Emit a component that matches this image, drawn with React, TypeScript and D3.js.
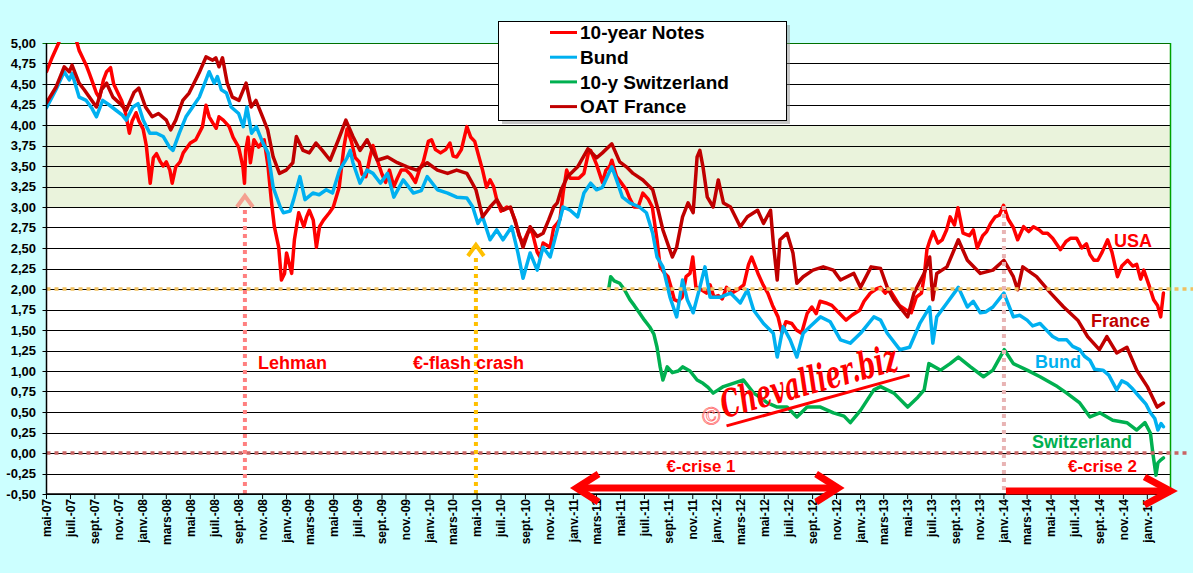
import React from "react";
import * as d3 from "d3";

type Pt = [string, number];

// ---------- DATA ----------
const usNotes: Pt[] = [
  ["2007-05-01",4.65],["2007-05-16",4.83],["2007-06-01",5.00],["2007-06-12",5.18],["2007-06-25",5.10],["2007-07-05",5.08],["2007-07-15",5.05],["2007-07-23",4.91],["2007-08-01",4.82],["2007-08-10",4.73],["2007-08-18",4.63],["2007-08-27",4.51],["2007-09-05",4.39],["2007-09-13",4.33],["2007-09-23",4.55],["2007-10-01",4.65],["2007-10-11",4.70],["2007-10-19",4.50],["2007-10-29",4.40],["2007-11-08",4.30],["2007-11-18",4.15],["2007-11-28",3.90],["2007-12-05",4.05],["2007-12-15",4.15],["2007-12-22",4.05],
  ["2008-01-02",3.95],["2008-01-10",3.75],["2008-01-20",3.29],["2008-01-28",3.60],["2008-02-05",3.65],["2008-02-15",3.55],["2008-02-22",3.50],["2008-03-01",3.55],["2008-03-10",3.45],["2008-03-16",3.29],["2008-03-25",3.49],["2008-04-05",3.55],["2008-04-13",3.66],["2008-05-01",3.78],["2008-05-15",3.82],["2008-06-01",3.98],["2008-06-10",4.24],["2008-06-18",4.10],["2008-06-28",4.02],["2008-07-06",3.96],["2008-07-13",4.10],["2008-07-24",4.06],["2008-08-08",3.98],["2008-08-18",3.85],["2008-09-01",3.73],["2008-09-12",3.49],["2008-09-16",3.29],["2008-09-19",3.69],["2008-09-25",3.85],["2008-10-01",3.54],["2008-10-10",3.82],["2008-10-22",3.73],["2008-11-05",3.82],["2008-11-15",3.49],["2008-11-23",3.09],["2008-12-01",2.76],["2008-12-12",2.51],["2008-12-19",2.11],["2008-12-27",2.19],
  ["2009-01-01",2.44],["2009-01-14",2.19],["2009-01-21",2.60],["2009-02-01",2.93],["2009-02-14",2.76],["2009-02-21",2.88],["2009-02-28",2.96],["2009-03-10",2.84],["2009-03-18",2.51],["2009-03-26",2.76],["2009-04-05",2.84],["2009-04-20",2.93],["2009-04-30",3.00],["2009-05-15",3.24],["2009-05-27",3.73],["2009-06-04",3.95],["2009-06-15",3.80],["2009-06-25",3.60],["2009-07-05",3.55],["2009-07-12",3.40],["2009-07-22",3.37],["2009-08-01",3.60],["2009-08-09",3.75],["2009-08-20",3.57],["2009-09-01",3.40],["2009-09-10",3.30],["2009-09-20",3.45],["2009-10-01",3.25],["2009-10-10",3.35],["2009-10-20",3.45],["2009-11-01",3.45],["2009-11-12",3.40],["2009-11-25",3.30],["2009-12-05",3.45],["2009-12-15",3.55],["2009-12-28",3.80],
  ["2010-01-05",3.82],["2010-01-15",3.70],["2010-01-28",3.66],["2010-02-10",3.70],["2010-02-21",3.78],["2010-03-01",3.62],["2010-03-10",3.61],["2010-03-22",3.70],["2010-04-05",3.98],["2010-04-15",3.85],["2010-04-25",3.80],["2010-05-08",3.57],["2010-05-15",3.45],["2010-05-25",3.24],["2010-06-03",3.33],["2010-06-12",3.25],["2010-06-20",3.09],["2010-07-01",2.95],["2010-07-16",3.00],["2010-07-25",2.98],["2010-08-06",2.84],["2010-08-16",2.65],["2010-08-26",2.56],["2010-09-08",2.70],["2010-09-18",2.70],["2010-10-01",2.45],["2010-10-08",2.39],["2010-10-16",2.56],["2010-11-03",2.51],["2010-11-12",2.75],["2010-11-21",2.80],["2010-11-28",2.85],["2010-12-06",3.17],["2010-12-15",3.45],["2010-12-24",3.35],
  ["2011-01-05",3.35],["2011-01-15",3.35],["2011-01-28",3.41],["2011-02-08",3.65],["2011-02-14",3.69],["2011-03-01",3.52],["2011-03-16",3.30],["2011-03-25",3.45],["2011-04-04",3.50],["2011-04-09",3.57],["2011-04-21",3.37],["2011-05-02",3.30],["2011-05-16",3.21],["2011-05-25",3.10],["2011-06-05",3.00],["2011-06-15",3.00],["2011-06-27",3.17],["2011-07-10",3.10],["2011-07-21",3.00],["2011-08-02",2.60],["2011-08-10",2.27],["2011-08-20",2.20],["2011-08-30",2.15],["2011-09-08",2.00],["2011-09-15",1.87],["2011-09-25",1.85],["2011-10-05",1.90],["2011-10-15",2.15],["2011-10-25",2.19],["2011-11-01",2.39],["2011-11-09",2.02],["2011-11-20",2.00],["2011-12-06",1.95],["2011-12-15",2.05],["2011-12-25",1.90],
  ["2012-01-05",1.92],["2012-01-15",1.88],["2012-01-26",2.02],["2012-02-08",1.95],["2012-02-23",1.99],["2012-03-10",2.05],["2012-03-22",2.30],["2012-03-30",2.39],["2012-04-15",2.19],["2012-04-28",2.05],["2012-05-10",1.95],["2012-05-22",1.80],["2012-06-05",1.66],["2012-06-15",1.46],["2012-06-25",1.60],["2012-07-10",1.58],["2012-07-22",1.50],["2012-08-04",1.46],["2012-08-18",1.70],["2012-08-30",1.78],["2012-09-10",1.70],["2012-09-20",1.85],["2012-10-05",1.83],["2012-10-20",1.80],["2012-11-05",1.72],["2012-11-25",1.62],["2012-12-10",1.68],["2012-12-30",1.74],
  ["2013-01-10",1.85],["2013-01-26",1.95],["2013-02-10",2.00],["2013-02-21",2.02],["2013-03-05",1.95],["2013-03-15",2.00],["2013-03-28",1.90],["2013-04-10",1.80],["2013-04-25",1.75],["2013-05-10",1.71],["2013-05-23",1.90],["2013-06-05",1.95],["2013-06-12",2.15],["2013-06-19",2.48],["2013-06-27",2.60],["2013-07-05",2.70],["2013-07-17",2.56],["2013-07-28",2.60],["2013-08-08",2.72],["2013-08-17",2.88],["2013-08-28",2.78],["2013-09-06",2.99],["2013-09-19",2.68],["2013-10-05",2.65],["2013-10-15",2.72],["2013-10-25",2.50],["2013-11-08",2.65],["2013-11-18",2.70],["2013-11-28",2.80],["2013-12-10",2.88],["2013-12-20",2.90],["2013-12-31",3.02],
  ["2014-01-12",2.85],["2014-01-25",2.75],["2014-02-05",2.60],["2014-02-20",2.76],["2014-03-05",2.70],["2014-03-17",2.76],["2014-04-01",2.72],["2014-04-10",2.68],["2014-04-22",2.68],["2014-05-05",2.62],["2014-05-15",2.55],["2014-05-25",2.48],["2014-06-08",2.58],["2014-06-20",2.62],["2014-07-05",2.62],["2014-07-18",2.50],["2014-07-30",2.55],["2014-08-08",2.42],["2014-08-18",2.35],["2014-08-28",2.35],["2014-09-08",2.45],["2014-09-22",2.60],["2014-10-03",2.45],["2014-10-17",2.15],["2014-10-28",2.28],["2014-11-12",2.35],["2014-11-25",2.28],["2014-12-05",2.30],["2014-12-15",2.12],["2014-12-23",2.23],
  ["2015-01-05",2.05],["2015-01-17",1.87],["2015-01-27",1.80],["2015-02-04",1.66],["2015-02-11",1.95]
];

const bund: Pt[] = [
  ["2007-05-01",4.21],["2007-05-25",4.43],["2007-06-15",4.65],["2007-06-28",4.55],["2007-07-05",4.63],["2007-07-23",4.34],["2007-08-10",4.30],["2007-08-25",4.20],["2007-09-05",4.10],["2007-09-21",4.30],["2007-10-06",4.25],["2007-10-25",4.18],["2007-11-10",4.12],["2007-11-20",4.06],["2007-12-07",4.22],["2007-12-20",4.26],
  ["2008-01-02",4.06],["2008-01-19",3.90],["2008-02-05",3.90],["2008-02-22",3.86],["2008-03-09",3.73],["2008-03-18",3.69],["2008-04-03",3.90],["2008-04-20",4.10],["2008-05-07",4.22],["2008-05-24",4.34],["2008-06-10",4.55],["2008-06-18",4.65],["2008-07-01",4.51],["2008-07-09",4.59],["2008-07-19",4.43],["2008-08-01",4.39],["2008-08-13",4.22],["2008-09-01",4.14],["2008-09-13",3.98],["2008-09-22",4.22],["2008-10-04",3.90],["2008-10-16",3.98],["2008-11-02",3.78],["2008-11-15",3.66],["2008-11-28",3.24],["2008-12-16",3.00],["2008-12-24",2.93],
  ["2009-01-10",2.95],["2009-01-19",3.09],["2009-02-04",3.37],["2009-02-17",3.09],["2009-03-09",3.17],["2009-03-25",3.15],["2009-04-12",3.21],["2009-04-28",3.17],["2009-05-16",3.45],["2009-06-04",3.60],["2009-06-12",3.69],["2009-06-19",3.54],["2009-07-07",3.29],["2009-07-25",3.45],["2009-08-09",3.41],["2009-08-28",3.29],["2009-09-15",3.41],["2009-10-01",3.12],["2009-10-25",3.33],["2009-11-20",3.17],["2009-12-10",3.20],["2009-12-25",3.37],
  ["2010-01-20",3.21],["2010-02-15",3.17],["2010-03-10",3.12],["2010-04-05",3.11],["2010-04-20",3.00],["2010-05-03",2.80],["2010-05-15",2.88],["2010-06-03",2.60],["2010-06-20",2.72],["2010-07-06",2.60],["2010-07-28",2.76],["2010-08-13",2.44],["2010-08-26",2.13],["2010-09-13",2.44],["2010-10-01",2.23],["2010-10-16",2.51],["2010-11-03",2.39],["2010-11-21",2.72],["2010-12-06",3.00],["2010-12-24",2.96],
  ["2011-01-12",2.88],["2011-01-28",3.17],["2011-02-14",3.29],["2011-03-01",3.21],["2011-03-16",3.24],["2011-04-09",3.49],["2011-04-21",3.33],["2011-05-06",3.12],["2011-05-25",3.05],["2011-06-18",3.00],["2011-07-06",2.93],["2011-07-22",2.68],["2011-08-02",2.39],["2011-08-17",2.27],["2011-09-04",1.90],["2011-09-21",1.66],["2011-10-06",2.11],["2011-10-18",1.87],["2011-11-02",1.71],["2011-11-19",2.02],["2011-12-02",2.27],["2011-12-15",1.90],
  ["2012-01-10",1.90],["2012-02-05",1.95],["2012-03-01",1.83],["2012-03-19",1.99],["2012-04-04",1.74],["2012-04-29",1.58],["2012-05-24",1.46],["2012-06-03",1.17],["2012-06-18",1.54],["2012-07-06",1.38],["2012-07-23",1.17],["2012-08-08",1.46],["2012-08-25",1.54],["2012-09-21",1.66],["2012-10-16",1.60],["2012-11-11",1.38],["2012-12-06",1.34],
  ["2013-01-01",1.46],["2013-02-04",1.66],["2013-02-21",1.62],["2013-03-10",1.46],["2013-04-11",1.26],["2013-05-06",1.29],["2013-06-01",1.58],["2013-06-26",1.78],["2013-07-04",1.34],["2013-07-14",1.66],["2013-08-09",1.83],["2013-09-07",2.02],["2013-09-30",1.78],["2013-10-15",1.85],["2013-11-02",1.71],["2013-11-15",1.72],["2013-12-04",1.78],
  ["2014-01-01",1.95],["2014-01-25",1.66],["2014-02-10",1.68],["2014-03-01",1.62],["2014-03-15",1.55],["2014-04-03",1.58],["2014-04-15",1.52],["2014-05-05",1.42],["2014-05-20",1.38],["2014-06-10",1.38],["2014-06-25",1.30],["2014-07-13",1.26],["2014-07-25",1.18],["2014-08-08",1.13],["2014-08-20",1.02],["2014-09-10",1.01],["2014-09-25",0.95],["2014-10-15",0.77],["2014-10-28",0.88],["2014-11-10",0.85],["2014-11-25",0.78],["2014-12-13",0.68],["2014-12-28",0.60],
  ["2015-01-09",0.49],["2015-01-20",0.42],["2015-01-28",0.28],["2015-02-05",0.36],["2015-02-11",0.32]
];

const swiss: Pt[] = [
  ["2011-04-01",2.00],["2011-04-06",2.15],["2011-04-15",2.10],["2011-04-29",2.07],["2011-05-10",2.00],["2011-05-25",1.87],["2011-06-05",1.80],["2011-06-18",1.71],["2011-07-01",1.62],["2011-07-14",1.54],["2011-07-25",1.45],["2011-08-02",1.29],["2011-08-10",1.05],["2011-08-17",0.89],["2011-08-28",1.05],["2011-09-10",0.98],["2011-09-25",1.00],["2011-10-06",1.05],["2011-10-25",1.00],["2011-11-12",0.89],["2011-11-27",0.85],["2011-12-10",0.80],["2011-12-23",0.73],
  ["2012-01-18",0.81],["2012-02-12",0.85],["2012-03-09",0.89],["2012-04-04",0.73],["2012-04-20",0.68],["2012-05-09",0.61],["2012-06-03",0.56],["2012-06-28",0.56],["2012-07-23",0.44],["2012-08-18",0.56],["2012-09-21",0.56],["2012-10-24",0.49],["2012-11-20",0.45],["2012-12-06",0.37],
  ["2013-01-01",0.52],["2013-02-04",0.77],["2013-02-21",0.81],["2013-03-27",0.73],["2013-05-01",0.56],["2013-05-27",0.68],["2013-06-12",0.77],["2013-06-24",1.09],["2013-07-24",1.01],["2013-08-17",1.09],["2013-09-07",1.17],["2013-10-08",1.05],["2013-11-10",0.93],["2013-12-04",1.01],
  ["2014-01-02",1.26],["2014-01-25",1.09],["2014-03-01",1.01],["2014-04-03",0.93],["2014-05-17",0.81],["2014-06-10",0.73],["2014-07-13",0.61],["2014-08-08",0.44],["2014-09-02",0.49],["2014-10-05",0.40],["2014-11-10",0.37],["2014-12-05",0.28],["2014-12-26",0.37],
  ["2015-01-09",0.24],["2015-01-15",0.00],["2015-01-23",-0.27],["2015-01-28",-0.12],["2015-02-03",-0.09],["2015-02-11",-0.06]
];

const oatFrance: Pt[] = [
  ["2007-05-01",4.27],["2007-05-25",4.46],["2007-06-15",4.71],["2007-06-28",4.65],["2007-07-05",4.73],["2007-07-23",4.51],["2007-08-05",4.43],["2007-08-18",4.34],["2007-09-05",4.22],["2007-09-18",4.43],["2007-10-01",4.51],["2007-10-17",4.34],["2007-11-02",4.27],["2007-11-20",4.18],["2007-12-10",4.40],["2007-12-22",4.45],
  ["2008-01-08",4.22],["2008-01-25",4.10],["2008-02-10",4.14],["2008-03-01",4.06],["2008-03-12",3.94],["2008-03-25",4.06],["2008-04-12",4.30],["2008-04-28",4.39],["2008-05-23",4.63],["2008-06-10",4.83],["2008-06-27",4.79],["2008-07-05",4.82],["2008-07-13",4.71],["2008-07-22",4.82],["2008-08-03",4.51],["2008-08-16",4.34],["2008-09-02",4.30],["2008-09-20",4.51],["2008-10-03",4.22],["2008-10-15",4.30],["2008-11-01",4.10],["2008-11-14",3.94],["2008-11-28",3.61],["2008-12-14",3.41],["2008-12-31",3.45],
  ["2009-01-17",3.54],["2009-01-26",3.86],["2009-02-12",3.69],["2009-02-28",3.66],["2009-03-17",3.78],["2009-04-02",3.69],["2009-04-22",3.57],["2009-05-13",3.82],["2009-06-01",4.06],["2009-06-19",3.86],["2009-07-07",3.69],["2009-07-25",3.82],["2009-08-20",3.57],["2009-09-15",3.61],["2009-10-10",3.54],["2009-11-04",3.49],["2009-11-28",3.45],["2009-12-25",3.54],
  ["2010-01-20",3.45],["2010-02-15",3.41],["2010-03-10",3.45],["2010-04-05",3.41],["2010-04-28",3.21],["2010-05-15",2.88],["2010-06-03",3.00],["2010-06-20",3.09],["2010-07-06",2.96],["2010-07-25",3.00],["2010-08-10",2.76],["2010-08-26",2.51],["2010-09-13",2.76],["2010-10-01",2.64],["2010-10-16",2.68],["2010-10-30",2.84],["2010-11-12",3.00],["2010-11-21",3.05],["2010-12-01",3.21],["2010-12-17",3.37],
  ["2011-01-12",3.49],["2011-02-07",3.71],["2011-03-01",3.60],["2011-03-16",3.66],["2011-04-09",3.77],["2011-04-29",3.55],["2011-05-16",3.49],["2011-06-02",3.41],["2011-06-27",3.33],["2011-07-22",3.21],["2011-08-05",2.96],["2011-08-17",2.72],["2011-09-10",2.39],["2011-09-21",2.51],["2011-10-06",2.88],["2011-10-20",3.05],["2011-11-02",2.93],["2011-11-12",3.61],["2011-11-19",3.69],["2011-11-27",3.49],["2011-12-08",3.12],["2011-12-23",3.00],
  ["2012-01-05",3.33],["2012-01-18",3.05],["2012-02-05",3.00],["2012-03-01",2.76],["2012-03-19",2.88],["2012-04-14",2.96],["2012-04-29",2.80],["2012-05-17",2.96],["2012-05-24",2.56],["2012-06-03",2.11],["2012-06-10",2.60],["2012-06-28",2.68],["2012-07-13",2.44],["2012-07-23",2.07],["2012-08-08",2.15],["2012-09-02",2.23],["2012-09-28",2.27],["2012-10-24",2.23],["2012-11-11",2.11],["2012-12-15",2.19],
  ["2013-01-01",2.02],["2013-01-28",2.27],["2013-02-21",2.25],["2013-03-10",2.02],["2013-03-27",1.87],["2013-05-01",1.66],["2013-05-17",1.95],["2013-06-12",2.19],["2013-06-26",2.39],["2013-07-04",1.87],["2013-07-14",2.19],["2013-08-09",2.27],["2013-09-07",2.60],["2013-09-30",2.35],["2013-11-02",2.19],["2013-12-04",2.23],
  ["2014-01-01",2.35],["2014-01-25",2.15],["2014-02-05",1.99],["2014-02-18",2.27],["2014-03-25",2.15],["2014-04-30",1.95],["2014-06-02",1.78],["2014-07-08",1.62],["2014-08-02",1.42],["2014-09-01",1.26],["2014-09-20",1.42],["2014-10-15",1.22],["2014-11-10",1.29],["2014-12-05",1.01],
  ["2015-01-01",0.81],["2015-01-26",0.56],["2015-02-11",0.61]
];

const seriesNames = ["10-year Notes", "Bund", "10-y Switzerland", "OAT France"];
const seriesColors = ["#FF0000", "#00B0F0", "#00B050", "#C00000"];

const xTickLabels = [
  "mai-07","juil.-07","sept.-07","nov.-07","janv.-08","mars-08","mai-08","juil.-08","sept.-08","nov.-08",
  "janv.-09","mars-09","mai-09","juil.-09","sept.-09","nov.-09","janv.-10","mars-10","mai-10","juil.-10",
  "sept.-10","nov.-10","janv.-11","mars-11","mai-11","juil.-11","sept.-11","nov.-11","janv.-12","mars-12",
  "mai-12","juil.-12","sept.-12","nov.-12","janv.-13","mars-13","mai-13","juil.-13","sept.-13","nov.-13",
  "janv.-14","mars-14","mai-14","juil.-14","sept.-14","nov.-14","janv.-15"
];

const yMin = -0.5;
const yMax = 5;
const yStep = 0.25;
const bandLow = 3;
const bandHigh = 4;
const refLine = 2;

const lehmanDate = "2008-09-17";
const flashDate = "2010-04-28";
const crise2Date = "2014-01-01";
const crise1Range = ["2011-01-04", "2012-11-10"];

// ---------- CHART ----------
const W = 1193, H = 573;
const L = 46.5, R = 1170.5, T = 43, B = 494;
const FONT = "'Liberation Sans', Arial, Helvetica, sans-serif";

export default function App() {
  const parse = d3.timeParse("%Y-%m-%d");
  const pd = (s: string) => parse(s) as Date;
  const start = new Date(2007, 4, 1);
  const end = new Date(2015, 2, 1);
  const x = d3.scaleTime().domain([start, end]).range([L, R]);
  const y = d3.scaleLinear().domain([yMin, yMax]).range([B, T]);
  const nT = Math.round((yMax - yMin) / yStep);
  const yTicks = d3.range(0, nT + 1).map((i) => yMin + i * yStep);
  const xTicks = xTickLabels.map((lab, i) => ({ lab, d: d3.timeMonth.offset(start, i * 2) }));
  const line = d3.line<Pt>().x((d) => x(pd(d[0]))).y((d) => y(d[1]));
  const allSeries = [usNotes, bund, swiss, oatFrance];

  const xl = x(pd(lehmanDate));
  const xf = x(pd(flashDate));
  const xc2 = x(pd(crise2Date));
  const xc1a = x(pd(crise1Range[0]));
  const xc1b = x(pd(crise1Range[1]));

  return (
    <svg width={W} height={H} style={{ position: "absolute", left: 0, top: 0 }} fontFamily={FONT}>
      <defs>
        <clipPath id="plotClip">
          <rect x={L} y={T - 1} width={R - L} height={B - T + 1} />
        </clipPath>
      </defs>
      <rect x={0} y={0} width={W} height={H} fill="#CCFFFF" />
      <rect x={L} y={T} width={R - L} height={B - T} fill="#FFFFFF" />
      <rect x={L} y={y(bandHigh)} width={R - L} height={y(bandLow) - y(bandHigh)} fill="#EAF3DC" />
      {yTicks.map((v) => (
        <line key={"g" + v} x1={L - 4} x2={R} y1={Math.round(y(v)) + 0.5} y2={Math.round(y(v)) + 0.5}
          stroke={v === yMax ? "#007000" : "#000"} strokeWidth={1} />
      ))}
      <line x1={R} x2={R} y1={T} y2={B} stroke="#00A000" strokeWidth={1.5} />
      {yTicks.map((v) => (
        <text key={"yl" + v} x={36} y={y(v)} dy="0.36em" textAnchor="end" fontSize={13} fontWeight="bold" fill="#000">
          {v.toFixed(2).replace(".", ",")}
        </text>
      ))}
      <g clipPath="url(#plotClip)">
        {allSeries.map((s, i) => (
          <path key={"s" + i} d={line(s) || ""} fill="none" stroke={seriesColors[i]} strokeWidth={3.5}
            strokeLinejoin="round" strokeLinecap="round" />
        ))}
      </g>
      {/* reference lines */}
      <line x1={L} x2={W} y1={y(refLine)} y2={y(refLine)} stroke="#F0C060" strokeWidth={3.5} strokeDasharray="4 4" />
      <line x1={L} x2={1190} y1={y(0)} y2={y(0)} stroke="#C86464" strokeWidth={3.5} strokeDasharray="4 4" />
      <line x1={xl} x2={xl} y1={210} y2={B} stroke="#FF8080" strokeWidth={4} strokeDasharray="4 4" />
      <polyline points={`${xl - 8},${207} ${xl},${196} ${xl + 8},${207}`} fill="none" stroke="#F4A090" strokeWidth={4} />
      <line x1={xf} x2={xf} y1={258} y2={B} stroke="#FFC000" strokeWidth={4} strokeDasharray="4 4" />
      <polyline points={`${xf - 8},${256} ${xf},${245} ${xf + 8},${256}`} fill="none" stroke="#FFC000" strokeWidth={4} />
      <line x1={xc2} x2={xc2} y1={206} y2={B} stroke="#E8B4B4" strokeWidth={4} strokeDasharray="4 4" />
      {/* axes */}
      <line x1={L} x2={L} y1={T} y2={B} stroke="#000" strokeWidth={1.5} />
      <line x1={L} x2={R} y1={B} y2={B} stroke="#000" strokeWidth={1.5} />
      {xTicks.map((t) => (
        <line key={"xt" + t.lab} x1={x(t.d)} x2={x(t.d)} y1={B} y2={B + 5} stroke="#000" strokeWidth={1} />
      ))}
      {xTicks.map((t) => (
        <text key={"xl" + t.lab} transform={`translate(${x(t.d)},${499}) rotate(-90)`} dy="0.36em"
          textAnchor="end" fontSize={12} fontWeight="bold" fill="#000">{t.lab}</text>
      ))}
      {/* crisis arrows */}
      <g stroke="#FF0000" strokeWidth={7} fill="none" strokeLinejoin="miter">
        <line x1={xc1a + 2} x2={xc1b - 2} y1={488} y2={488} />
        <polyline points={`${xc1a + 24},${474} ${xc1a + 2},${488} ${xc1a + 24},${502}`} />
        <polyline points={`${xc1b - 24},${474} ${xc1b - 2},${488} ${xc1b - 24},${502}`} />
        <line x1={xc2 + 2} x2={R - 2} y1={491} y2={491} />
        <polyline points={`${R - 26},${477} ${R},${491} ${R - 26},${505}`} />
      </g>
      {/* annotation labels */}
      <g fontWeight="bold" fontSize={18}>
        <text x={xl + 13} y={369} fill="#FF0000">Lehman</text>
        <text x={xf - 63} y={369} fill="#FF0000">€-flash crash</text>
        <text x={1114} y={247} fill="#FF0000">USA</text>
        <text x={1091} y={327} fill="#C00000">France</text>
        <text x={1035} y={368} fill="#00B0F0">Bund</text>
        <text x={1032} y={448} fill="#00B050">Switzerland</text>
        <text x={xc1a + 92} y={472} fill="#FF0000" fontSize={17}>€-crise 1</text>
        <text x={1068} y={472} fill="#FF0000" fontSize={17}>€-crise 2</text>
      </g>
      {/* watermark */}
      <g transform="translate(726,424) rotate(-15.5)">
        <text x={-24} y={-3} fontSize={24} fill="none" stroke="#FF7070" strokeWidth={0.8} fontFamily="'DejaVu Serif', serif">©</text>
        <text x={0} y={-6} fontSize={38} fill="#FF0000" fontStyle="italic" fontWeight="bold"
          fontFamily="'DejaVu Serif', 'Liberation Serif', serif" textLength={182} lengthAdjust="spacingAndGlyphs">Chevallier.biz</text>
        <line x1={0} x2={190} y1={2} y2={2} stroke="#FF0000" strokeWidth={3} />
      </g>
      {/* legend */}
      <rect x={502} y={25} width={288} height={99} fill="#808080" opacity={0.45} />
      <rect x={498.5} y={21.5} width={288} height={99} fill="#FFFFFF" stroke="#000" strokeWidth={1} />
      {seriesNames.map((n, i) => (
        <g key={"lg" + n}>
          <line x1={550} x2={577} y1={32.5 + i * 24.7} y2={32.5 + i * 24.7} stroke={seriesColors[i]} strokeWidth={3} />
          <text x={580} y={32.5 + i * 24.7} dy="0.36em" fontSize={19} fontWeight="bold" fill="#000">{n}</text>
        </g>
      ))}
    </svg>
  );
}
